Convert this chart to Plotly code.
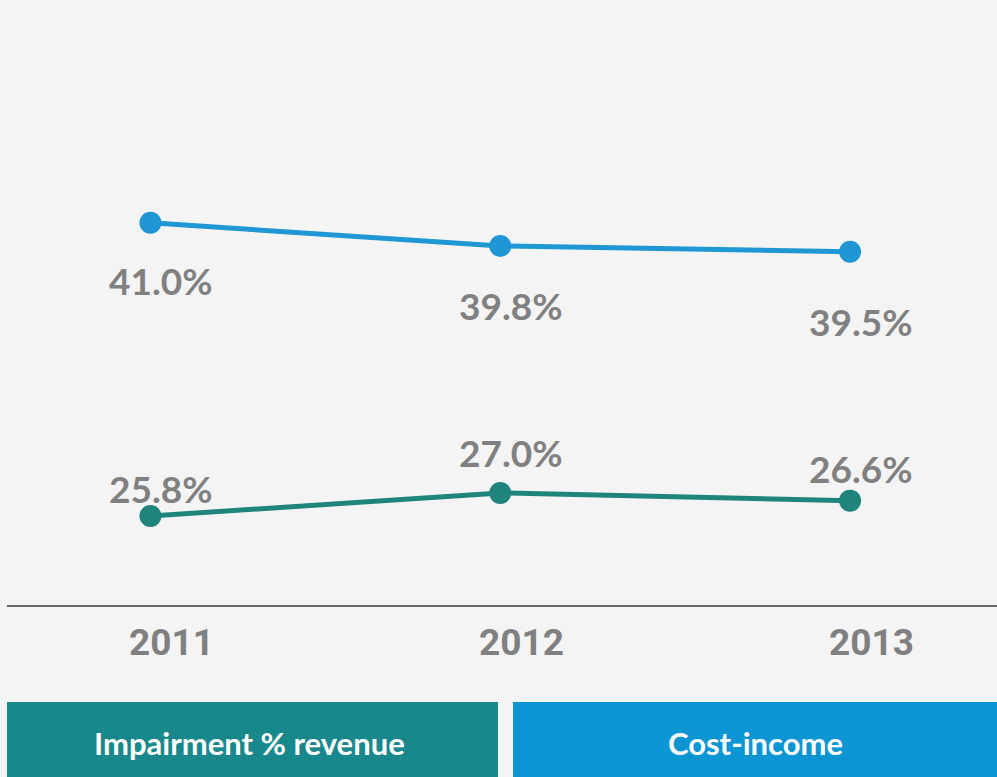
import plotly.graph_objects as go

years = ["2011", "2012", "2013"]
cost_income = [41.0, 39.8, 39.5]
impairment = [25.8, 27.0, 26.6]
series_names = ["Impairment % revenue", "Cost-income"]

BG = "#f4f4f4"
BLUE = "#1f97d4"
TEAL = "#1f857c"
BOX_TEAL = "#19888c"
BOX_BLUE = "#0c95d3"
GRAY = "#808080"

x = list(range(len(years)))

fig = go.Figure()
fig.add_trace(go.Scatter(x=x, y=cost_income, mode="lines+markers",
                         line=dict(color=BLUE, width=5),
                         marker=dict(color=BLUE, size=22),
                         name=series_names[1], showlegend=False))
fig.add_trace(go.Scatter(x=x, y=impairment, mode="lines+markers",
                         line=dict(color=TEAL, width=5),
                         marker=dict(color=TEAL, size=22),
                         name=series_names[0], showlegend=False))

label_font = dict(family="Lato, 'Open Sans', sans-serif", size=37, color=GRAY)
blue_shifts = [-58, -60, -70]
teal_shifts = [28, 40, 32]
for i, v in enumerate(cost_income):
    fig.add_annotation(x=x[i], y=v, text=f"<b>{v:.1f}%</b>", showarrow=False,
                       xshift=11, yshift=blue_shifts[i], font=label_font)
for i, v in enumerate(impairment):
    fig.add_annotation(x=x[i], y=v, text=f"<b>{v:.1f}%</b>", showarrow=False,
                       xshift=11, yshift=teal_shifts[i], font=label_font)

# category labels under the axis
for i, yr in enumerate(years):
    fig.add_annotation(x=x[i], y=0, yref="paper", text=f"<b>{yr}</b>",
                       showarrow=False, xanchor="center", yanchor="middle",
                       xshift=21, yshift=-37,
                       font=dict(family="Roboto, sans-serif", size=37, color=GRAY))

# legend boxes
py = lambda px: -(px - 605) / 605.0
px_x = lambda px: (px - 7) / 990.0
fig.add_shape(type="rect", xref="paper", yref="paper",
              x0=px_x(7), x1=px_x(498), y0=py(702), y1=py(777),
              fillcolor=BOX_TEAL, line=dict(width=0))
fig.add_shape(type="rect", xref="paper", yref="paper",
              x0=px_x(513), x1=px_x(997), y0=py(702), y1=py(777),
              fillcolor=BOX_BLUE, line=dict(width=0))
box_font = dict(family="Lato, 'Open Sans', sans-serif", size=31, color="white")
fig.add_annotation(xref="paper", yref="paper", x=px_x(249), y=py(743),
                   xanchor="center", yanchor="middle",
                   text=f"<b>{series_names[0]}</b>", showarrow=False, font=box_font)
fig.add_annotation(xref="paper", yref="paper", x=px_x(755), y=py(743),
                   xanchor="center", yanchor="middle",
                   text=f"<b>{series_names[1]}</b>", showarrow=False, font=box_font)

fig.update_layout(
    width=997, height=777,
    margin=dict(l=7, r=0, t=0, b=172),
    paper_bgcolor=BG, plot_bgcolor=BG,
    xaxis=dict(range=[-0.41, 2.42], tickmode="array", tickvals=x,
               showticklabels=False,
               showgrid=False, zeroline=False, showline=True,
               linecolor="#666666", linewidth=2, ticks=""),
    yaxis=dict(range=[21.19, 52.55], visible=False, showgrid=False),
)

fig.write_html("out.html", config={"displayModeBar": False},
               post_script="document.body.style.margin='0';document.body.style.background='#f4f4f4';")
